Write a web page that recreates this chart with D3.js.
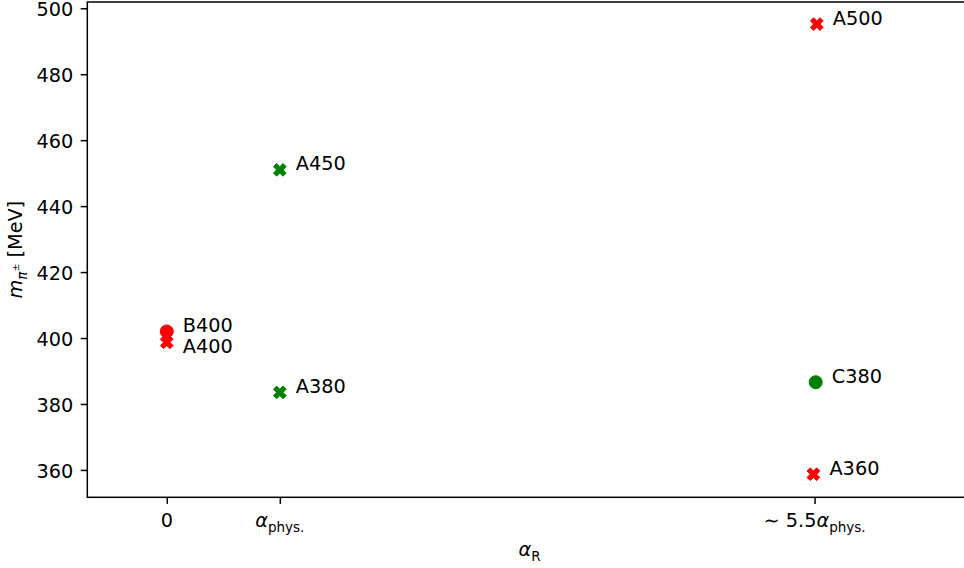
<!DOCTYPE html>
<html><head><meta charset="utf-8">
<script src="https://cdn.jsdelivr.net/npm/d3@7"></script>
<style>body{margin:0;background:#fff} svg{font-family:"DejaVu Sans";display:block}</style>
</head><body><svg id="c" width="964" height="568"></svg>
<script>
// ---- data ----
const labels = ["A400", "B400", "A380", "A450", "A360", "C380", "A500"];
const alphaR = [0, 0, 1, 1, 5.72, 5.74, 5.75];          // in units of alpha_phys
const mPi    = [398.7, 402.0, 383.5, 451.0, 358.7, 386.6, 495.2];
const group  = [0, 0, 1, 1, 0, 1, 0];
const xTicks = [0, 1, 5.73];
const xTickLabels = [
  {pre: "0", greek: "", sub: ""},
  {pre: "", greek: "α", sub: "phys."},
  {pre: "∼ 5.5", greek: "α", sub: "phys."}
];
const yTicks = [360, 380, 400, 420, 440, 460, 480, 500];

// ---- layout ----
const colors = ["#ff0000", "#008000"];
const FS = 19.3, SUB = FS * 0.7;
const L = 87.3, R = 971.7, T = 2, B = 497.3;
const svg = d3.select("#c");
const x = d3.scaleLinear().domain([-0.703, 7.12]).range([L, R]);
const y = d3.scaleLinear().domain([351.7, 501.9]).range([B, T]);

// y axis
const ya = svg.append("g").attr("transform", `translate(${L},0)`)
  .call(d3.axisLeft(y).tickValues(yTicks).tickSize(6.6).tickPadding(7.5).tickFormat(d3.format("d")));
ya.select(".domain").remove();
ya.selectAll("line").attr("stroke", "#000").attr("stroke-width", 1.5);
ya.selectAll("text").attr("font-size", FS).attr("font-family", "DejaVu Sans").attr("fill", "#000").attr("dy", "0.4em");

// x axis
const xa = svg.append("g").attr("transform", `translate(0,${B})`)
  .call(d3.axisBottom(x).tickValues(xTicks).tickSize(6.6).tickFormat(""));
xa.select(".domain").remove();
xa.selectAll("line").attr("stroke", "#000").attr("stroke-width", 1.5);
xTicks.forEach((v, i) => {
  const t = svg.append("text").attr("x", x(v)).attr("y", 527).attr("text-anchor", "middle")
    .attr("font-size", FS).attr("fill", "#000");
  const lab = xTickLabels[i];
  if (lab.pre) t.append("tspan").text(lab.pre);
  if (lab.greek) t.append("tspan").attr("font-style", "italic").text(lab.greek);
  if (lab.sub) t.append("tspan").attr("font-size", SUB).attr("dy", 4.7).text(lab.sub);
});

// frame
svg.append("rect").attr("x", L).attr("y", T).attr("width", R - L).attr("height", B - T)
  .attr("fill", "none").attr("stroke", "#000").attr("stroke-width", 1.5);

// axis labels
const xl = svg.append("text").attr("x", (L + R) / 2).attr("y", 556).attr("text-anchor", "middle")
  .attr("font-size", FS).attr("fill", "#000");
xl.append("tspan").attr("font-style", "italic").text("α");
xl.append("tspan").attr("font-size", SUB).attr("dy", 4.7).text("R");

const yl = svg.append("text").attr("transform", `translate(22,${(T + B) / 2}) rotate(-90)`)
  .attr("text-anchor", "middle").attr("font-size", FS).attr("fill", "#000");
yl.append("tspan").attr("font-style", "italic").text("m");
yl.append("tspan").attr("font-style", "italic").attr("font-size", SUB).attr("dy", 4.7).text("π");
yl.append("tspan").attr("font-size", SUB * 0.7).attr("dy", -7.5).text("±");
yl.append("tspan").attr("dy", 2.8).text(" [MeV]");

// markers
const plus = [[-1,-3],[1,-3],[1,-1],[3,-1],[3,1],[1,1],[1,3],[-1,3],[-1,1],[-3,1],[-3,-1],[-1,-1]];
const s = 13.5;
const c45 = Math.SQRT1_2;
const xPath = "M" + plus.map(([a, b]) => {
  const u = a / 6 * s, w = b / 6 * s;
  return [(u - w) * c45, (u + w) * c45].map(v => v.toFixed(2)).join(",");
}).join("L") + "Z";

const idx = d3.range(labels.length);
const pts = svg.append("g").selectAll("g").data(idx).join("g")
  .attr("transform", i => `translate(${x(alphaR[i])},${y(mPi[i])})`);
pts.each(function(i) {
  const g = d3.select(this);
  const col = colors[group[i]];
  if (labels[i][0] === "A") {
    g.append("path").attr("d", xPath).attr("fill", col).attr("stroke", col).attr("stroke-width", 1);
  } else {
    g.append("circle").attr("r", 6.5).attr("fill", col).attr("stroke", col).attr("stroke-width", 1);
  }
});

// annotations
svg.append("g").selectAll("text").data(idx).join("text")
  .attr("x", i => x(alphaR[i]) + 16)
  .attr("y", i => y(mPi[i]) + (labels[i] === "A400" ? 11 : 0.5))
  .attr("font-size", FS).attr("fill", "#000")
  .text(i => labels[i]);
</script></body></html>
